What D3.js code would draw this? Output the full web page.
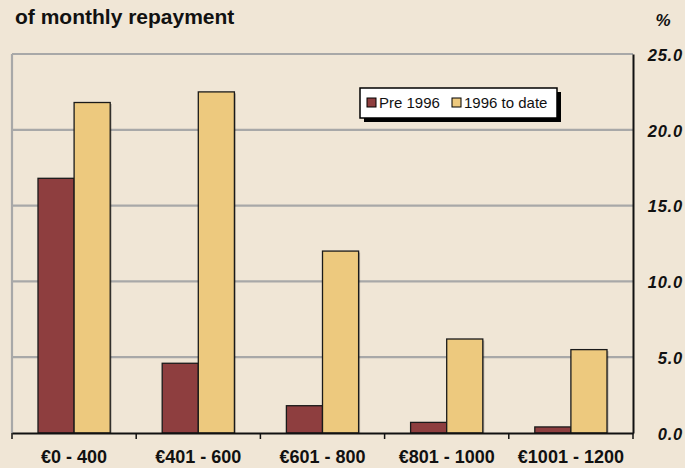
<!DOCTYPE html>
<html><head><meta charset="utf-8">
<script src="https://cdn.jsdelivr.net/npm/d3@7"></script>
<style>body{margin:0;background:#F0E6D6;}svg{display:block;font-family:"Liberation Sans",Arial,sans-serif;}</style>
</head><body>
<svg id="c" width="685" height="468"></svg>
<script>
const categories = ["€0 - 400","€401 - 600","€601 - 800","€801 - 1000","€1001 - 1200"];
const seriesNames = ["Pre 1996","1996 to date"];
const pre1996 = [16.8, 4.6, 1.8, 0.7, 0.4];
const toDate = [21.8, 22.5, 12.0, 6.2, 5.5];
const yTicks = [0,5,10,15,20,25];
const colors = ["#8E3E3F","#EDC97E"];

const svg = d3.select("#c");
const L=12, R=633, T=54, B=433;
const x = d3.scaleBand().domain(categories).range([L,R]);
const xs = d3.scaleBand().domain(seriesNames).range([0,x.bandwidth()]).paddingInner(0).paddingOuter(0.72);
const y = d3.scaleLinear().domain([0,25]).range([B,T]);

svg.append("rect").attr("width",685).attr("height",468).attr("fill","#F0E6D6");

// grid
svg.append("g").selectAll("line").data(yTicks.filter(d=>d>0)).join("line")
  .attr("x1",L).attr("x2",R).attr("y1",d=>y(d)).attr("y2",d=>y(d))
  .attr("stroke","#A8A8A8").attr("stroke-width",2.2);
svg.append("line").attr("x1",L).attr("x2",L).attr("y1",T).attr("y2",B).attr("stroke","#A8A8A8").attr("stroke-width",2.2);

// bars
const data = categories.map((c,i)=>({c, v:[pre1996[i], toDate[i]]}));
const g = svg.append("g");
data.forEach(d=>{
  seriesNames.forEach((s,j)=>{
    const bx = x(d.c)+xs(s), by = y(d.v[j]);
    g.append("rect").attr("x",bx+1.5).attr("y",by+1.5).attr("width",xs.bandwidth()).attr("height",B-by-1.5)
      .attr("fill","#000").attr("opacity",0.25);
    g.append("rect").attr("x",bx).attr("y",by).attr("width",xs.bandwidth()).attr("height",B-by)
      .attr("fill",colors[j]).attr("stroke","#1a1a1a").attr("stroke-width",1.3);
  });
});

// right axis
const ya = d3.axisRight(y).tickValues(yTicks).tickSize(0).tickFormat(d3.format(".1f"));
const yg = svg.append("g").attr("transform",`translate(${R},0)`).call(ya);
yg.select(".domain").attr("stroke","#111").attr("stroke-width",2);
yg.selectAll("text").attr("x",50).attr("text-anchor","end").attr("dy","0.38em")
  .style("font-size","16.5px").style("font-weight","bold").style("font-style","italic")
  .style("letter-spacing","0.8px").attr("fill","#111");

// bottom axis
const xa = d3.axisBottom(x).tickSize(0).tickFormat("");
const xg = svg.append("g").attr("transform",`translate(0,${B})`).call(xa);
xg.select(".domain").attr("stroke","#111").attr("stroke-width",2);
const bounds = categories.map(c=>x(c)).concat([R]);
svg.append("g").selectAll("line").data(bounds).join("line")
  .attr("x1",d=>d).attr("x2",d=>d).attr("y1",B).attr("y2",B+6).attr("stroke","#111").attr("stroke-width",1.5);
svg.append("g").selectAll("text").data(categories).join("text")
  .attr("x",d=>x(d)+x.bandwidth()/2).attr("y",463).attr("text-anchor","middle")
  .style("font-size","18px").style("font-weight","bold").attr("fill","#111").text(d=>d);

// titles
svg.append("text").attr("x",15).attr("y",24).style("font-size","21px").style("font-weight","bold").attr("fill","#111").text("of monthly repayment");
svg.append("text").attr("x",663).attr("y",26).attr("text-anchor","middle").style("font-size","17px").style("font-weight","bold").style("font-style","italic").attr("fill","#111").text("%");

// legend
const lg = svg.append("g");
lg.append("rect").attr("x",364).attr("y",92).attr("width",197).attr("height",30).attr("fill","#000");
lg.append("rect").attr("x",360).attr("y",88).attr("width",197).attr("height",30).attr("fill","#fff").attr("stroke","#000").attr("stroke-width",1.5);
const lx = [367, 452];
seriesNames.forEach((s,j)=>{
  lg.append("rect").attr("x",lx[j]).attr("y",98).attr("width",9).attr("height",9).attr("fill",colors[j]).attr("stroke","#000").attr("stroke-width",1);
  lg.append("text").attr("x",lx[j]+12).attr("y",108).style("font-size","15px").attr("fill","#111").text(s);
});
</script>
</body></html>
